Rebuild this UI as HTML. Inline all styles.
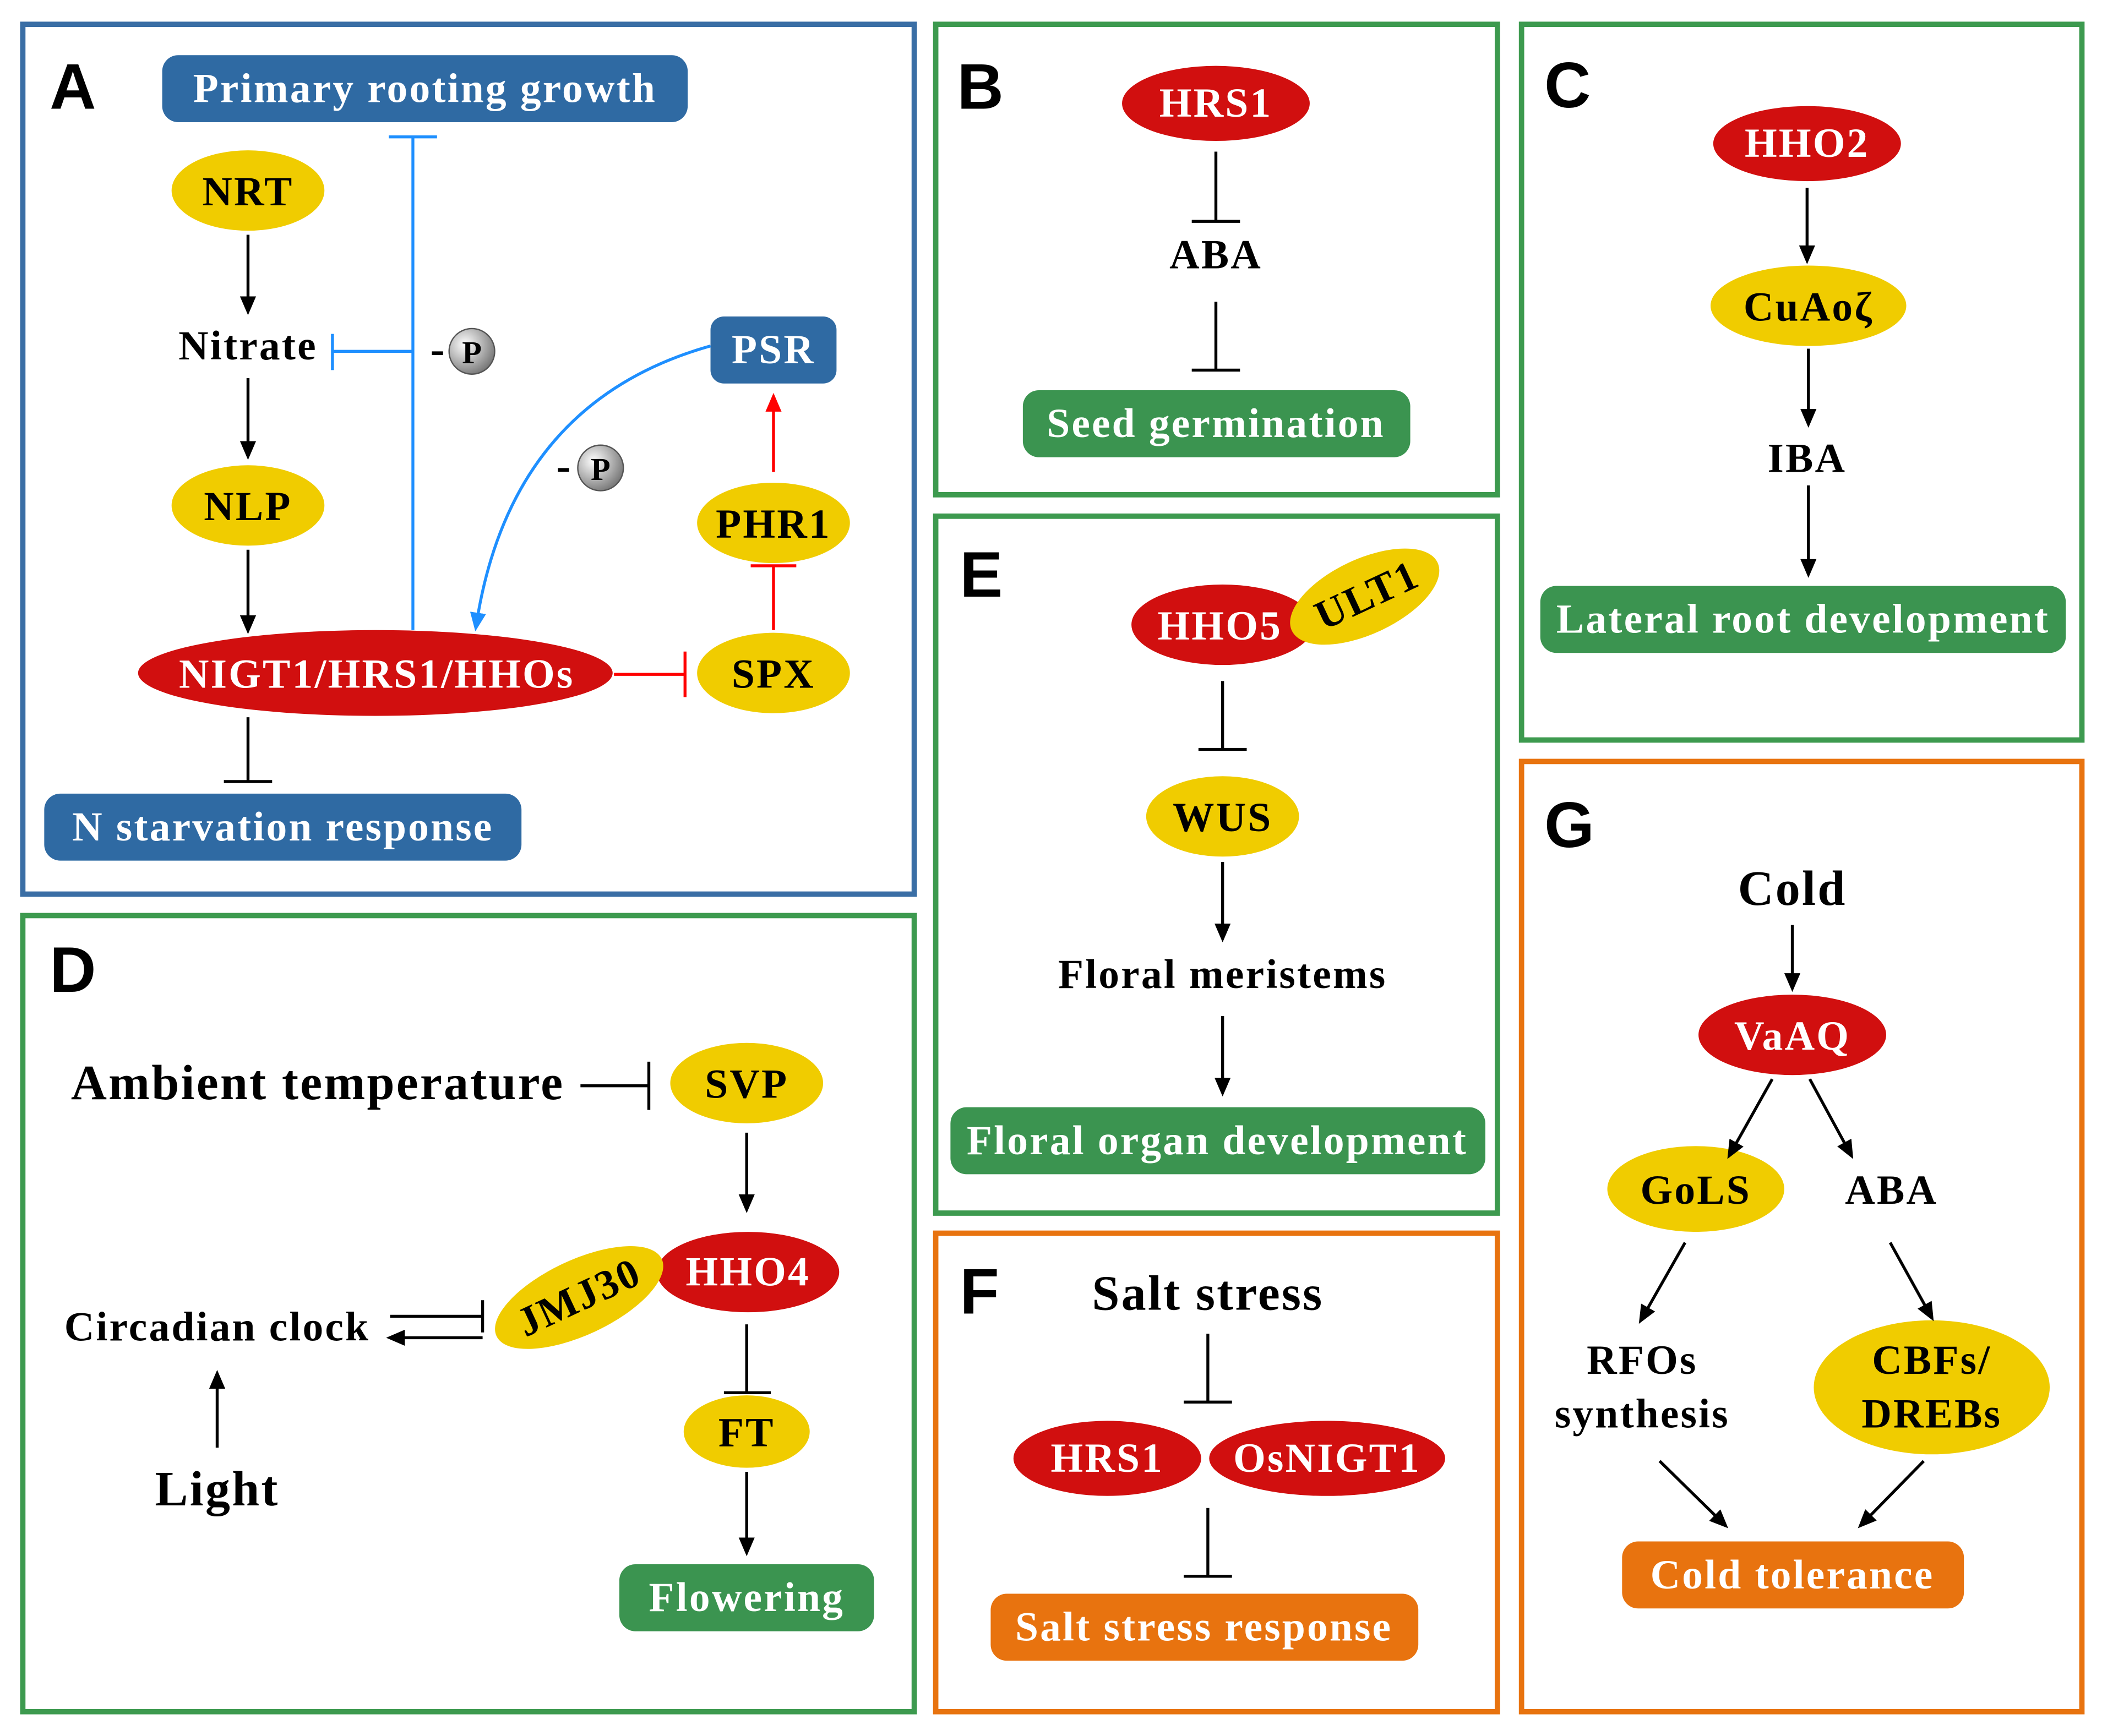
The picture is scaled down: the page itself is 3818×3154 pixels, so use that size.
<!DOCTYPE html>
<html><head><meta charset="utf-8"><style>
html,body{margin:0;padding:0;background:#fff;}
svg{display:block;}
text{font-family:"Liberation Serif",serif;font-weight:bold;letter-spacing:1.3px;}
.lbl{font-family:"Liberation Sans",sans-serif;font-size:48px;letter-spacing:0;}
</style></head><body>
<svg width="3818" height="3154" viewBox="0 0 1568 1295" xmlns="http://www.w3.org/2000/svg">
<defs>
<marker id="ak" markerWidth="14" markerHeight="12" refX="11" refY="6" orient="auto" markerUnits="userSpaceOnUse"><path d="M0,0 L14,6 L0,12 z" fill="#000"/></marker>
<marker id="ab" markerWidth="14" markerHeight="12" refX="11" refY="6" orient="auto" markerUnits="userSpaceOnUse"><path d="M0,0 L14,6 L0,12 z" fill="#1e8fff"/></marker>
<marker id="ar" markerWidth="14" markerHeight="12" refX="11" refY="6" orient="auto" markerUnits="userSpaceOnUse"><path d="M0,0 L14,6 L0,12 z" fill="#f00"/></marker>
<radialGradient id="gp" cx="0.35" cy="0.35" r="0.7"><stop offset="0" stop-color="#fff"/><stop offset="1" stop-color="#777"/></radialGradient>
</defs>
<g fill="none" stroke-width="4">
<rect x="17" y="18" width="665" height="649" stroke="#3a6ea5"/>
<rect x="698" y="18" width="419" height="351" stroke="#3d9a4f"/>
<rect x="1135" y="18" width="418" height="534" stroke="#3d9a4f"/>
<rect x="17" y="683" width="665" height="594" stroke="#3d9a4f"/>
<rect x="698" y="385" width="419" height="520" stroke="#3d9a4f"/>
<rect x="698" y="920" width="419" height="357" stroke="#e8730f"/>
<rect x="1135" y="568" width="418" height="709" stroke="#e8730f"/>
</g>
<g class="lbl" fill="#000">
<text x="37" y="81" class="lbl">A</text><text x="714" y="81" class="lbl">B</text><text x="1152" y="80" class="lbl">C</text>
<text x="37" y="740" class="lbl">D</text><text x="716" y="445" class="lbl">E</text><text x="716" y="980" class="lbl">F</text><text x="1152" y="632" class="lbl">G</text>
</g>
<g>
<rect x="121" y="41" width="392" height="50" rx="12" fill="#2f6aa3"/>
<rect x="530" y="236" width="94" height="50" rx="10" fill="#2f6aa3"/>
<rect x="33" y="592" width="356" height="50" rx="12" fill="#2f6aa3"/>
<rect x="763" y="291" width="289" height="50" rx="12" fill="#3b9450"/>
<rect x="1149" y="437" width="392" height="50" rx="12" fill="#3b9450"/>
<rect x="462" y="1167" width="190" height="50" rx="12" fill="#3b9450"/>
<rect x="709" y="826" width="399" height="50" rx="12" fill="#3b9450"/>
<rect x="739" y="1189" width="319" height="50" rx="12" fill="#e8730f"/>
<rect x="1210" y="1150" width="255" height="50" rx="12" fill="#e8730f"/>
</g>
<g fill="#f0cc00">
<ellipse cx="185" cy="142" rx="57" ry="30"/><ellipse cx="185" cy="377" rx="57" ry="30"/>
<ellipse cx="577" cy="390" rx="57" ry="30"/><ellipse cx="577" cy="502" rx="57" ry="30"/>
<ellipse cx="1349" cy="228" rx="73" ry="30"/><ellipse cx="557" cy="808" rx="57" ry="30"/>
<ellipse cx="557" cy="1068" rx="47" ry="27"/><ellipse cx="912" cy="609" rx="57" ry="30"/>
<ellipse cx="1265" cy="887" rx="66" ry="32"/><ellipse cx="1441" cy="1035" rx="88" ry="50"/>
</g>
<g fill="#d10f0f">
<ellipse cx="280" cy="502" rx="177" ry="32"/><ellipse cx="907" cy="77" rx="70" ry="28"/>
<ellipse cx="1348" cy="107" rx="70" ry="28"/><ellipse cx="558" cy="949" rx="68" ry="30"/>
<ellipse cx="912" cy="466" rx="68" ry="30"/><ellipse cx="826" cy="1088" rx="70" ry="28"/>
<ellipse cx="990" cy="1088" rx="88" ry="28"/><ellipse cx="1337" cy="772" rx="70" ry="30"/>
</g>
<ellipse cx="432" cy="968" rx="68" ry="28" fill="#f0cc00" transform="rotate(-25 432 968)"/>
<ellipse cx="1018" cy="445" rx="60" ry="28" fill="#f0cc00" transform="rotate(-25 1018 445)"/>
<g stroke="#000" stroke-width="2.2" fill="none">
<line x1="185" y1="175" x2="185" y2="232" marker-end="url(#ak)"/>
<line x1="185" y1="282" x2="185" y2="340" marker-end="url(#ak)"/>
<line x1="185" y1="410" x2="185" y2="470" marker-end="url(#ak)"/>
<line x1="185" y1="535" x2="185" y2="583"/><line x1="167" y1="583" x2="203" y2="583"/>
<line x1="907" y1="113" x2="907" y2="165"/><line x1="889" y1="165" x2="925" y2="165"/>
<line x1="907" y1="225" x2="907" y2="276"/><line x1="889" y1="276" x2="925" y2="276"/>
<line x1="1348" y1="140" x2="1348" y2="194" marker-end="url(#ak)"/>
<line x1="1349" y1="260" x2="1349" y2="316" marker-end="url(#ak)"/>
<line x1="1349" y1="362" x2="1349" y2="428" marker-end="url(#ak)"/>
<line x1="433" y1="810" x2="484" y2="810"/><line x1="484" y1="792" x2="484" y2="828"/>
<line x1="557" y1="845" x2="557" y2="902" marker-end="url(#ak)"/>
<line x1="291" y1="982" x2="360" y2="982"/><line x1="360" y1="970" x2="360" y2="994"/>
<line x1="360" y1="998" x2="291" y2="998" marker-end="url(#ak)"/>
<line x1="162" y1="1080" x2="162" y2="1025" marker-end="url(#ak)"/>
<line x1="557" y1="988" x2="557" y2="1039"/><line x1="540" y1="1039" x2="575" y2="1039"/>
<line x1="557" y1="1098" x2="557" y2="1158" marker-end="url(#ak)"/>
<line x1="912" y1="508" x2="912" y2="559"/><line x1="894" y1="559" x2="930" y2="559"/>
<line x1="912" y1="643" x2="912" y2="700" marker-end="url(#ak)"/>
<line x1="912" y1="758" x2="912" y2="815" marker-end="url(#ak)"/>
<line x1="901" y1="995" x2="901" y2="1046"/><line x1="883" y1="1046" x2="919" y2="1046"/>
<line x1="901" y1="1125" x2="901" y2="1176"/><line x1="883" y1="1176" x2="919" y2="1176"/>
<line x1="1337" y1="690" x2="1337" y2="737" marker-end="url(#ak)"/>
<line x1="1322" y1="805" x2="1290" y2="862" marker-end="url(#ak)"/>
<line x1="1350" y1="805" x2="1381" y2="862" marker-end="url(#ak)"/>
<line x1="1257" y1="927" x2="1224" y2="985" marker-end="url(#ak)"/>
<line x1="1410" y1="927" x2="1441" y2="983" marker-end="url(#ak)"/>
<line x1="1238" y1="1090" x2="1287" y2="1138" marker-end="url(#ak)"/>
<line x1="1435" y1="1090" x2="1388" y2="1138" marker-end="url(#ak)"/>
</g>
<g stroke="#1e8fff" stroke-width="2.2" fill="none">
<line x1="308" y1="470" x2="308" y2="102"/><line x1="290" y1="102" x2="326" y2="102"/>
<line x1="308" y1="262" x2="248" y2="262"/><line x1="248" y1="249" x2="248" y2="276"/>
<path d="M530,258 Q380,300 355,468" marker-end="url(#ab)"/>
</g>
<g stroke="#f00" stroke-width="2.2" fill="none">
<line x1="577" y1="352" x2="577" y2="296" marker-end="url(#ar)"/>
<line x1="577" y1="470" x2="577" y2="422"/><line x1="560" y1="422" x2="594" y2="422"/>
<line x1="458" y1="503" x2="511" y2="503"/><line x1="511" y1="486" x2="511" y2="520"/>
</g>
<g>
<text x="327" y="271" font-size="32" text-anchor="middle">-</text>
<circle cx="352" cy="262" r="17" fill="url(#gp)" stroke="#555" stroke-width="1"/>
<text x="352" y="271" font-size="24" text-anchor="middle" style="letter-spacing:0">P</text>
<text x="421" y="358" font-size="32" text-anchor="middle">-</text>
<circle cx="448" cy="349" r="17" fill="url(#gp)" stroke="#555" stroke-width="1"/>
<text x="448" y="358" font-size="24" text-anchor="middle" style="letter-spacing:0">P</text>
</g>
<g fill="#fff" font-size="31" text-anchor="middle">
<text x="317" y="76">Primary rooting growth</text>
<text x="577" y="271">PSR</text>
<text x="211" y="627">N starvation response</text>
<text x="907" y="326">Seed germination</text>
<text x="1345" y="472">Lateral root development</text>
<text x="557" y="1202">Flowering</text>
<text x="908" y="861">Floral organ development</text>
<text x="898" y="1224">Salt stress response</text>
<text x="1337" y="1185">Cold tolerance</text>
<text x="281" y="513">NIGT1/HRS1/HHOs</text>
<text x="907" y="87">HRS1</text>
<text x="1348" y="117">HHO2</text>
<text x="558" y="959">HHO4</text>
<text x="910" y="477">HHO5</text>
<text x="826" y="1098">HRS1</text>
<text x="990" y="1098">OsNIGT1</text>
<text x="1337" y="783">VaAQ</text>
</g>
<g fill="#000" font-size="31" text-anchor="middle">
<text x="185" y="153">NRT</text>
<text x="185" y="268">Nitrate</text>
<text x="185" y="388">NLP</text>
<text x="577" y="401">PHR1</text>
<text x="577" y="513">SPX</text>
<text x="907" y="200">ABA</text>
<text x="1349" y="239">CuAoζ</text>
<text x="1348" y="352">IBA</text>
<text x="237" y="820" font-size="37">Ambient temperature</text>
<text x="557" y="819">SVP</text>
<text x="162" y="1000">Circadian clock</text>
<text x="162" y="1123" font-size="37">Light</text>
<text x="557" y="1079">FT</text>
<text x="432" y="978" transform="rotate(-25 432 968)">JMJ30</text>
<text x="1020" y="455" transform="rotate(-25 1018 445)">ULT1</text>
<text x="912" y="620">WUS</text>
<text x="912" y="737">Floral meristems</text>
<text x="1337" y="675" font-size="37">Cold</text>
<text x="1265" y="898">GoLS</text>
<text x="1411" y="898">ABA</text>
<text x="1225" y="1025">RFOs</text>
<text x="1225" y="1065">synthesis</text>
<text x="1441" y="1025">CBFs/</text>
<text x="1441" y="1065">DREBs</text>
<text x="901" y="977" font-size="37">Salt stress</text>
</g>
</svg>
</body></html>
